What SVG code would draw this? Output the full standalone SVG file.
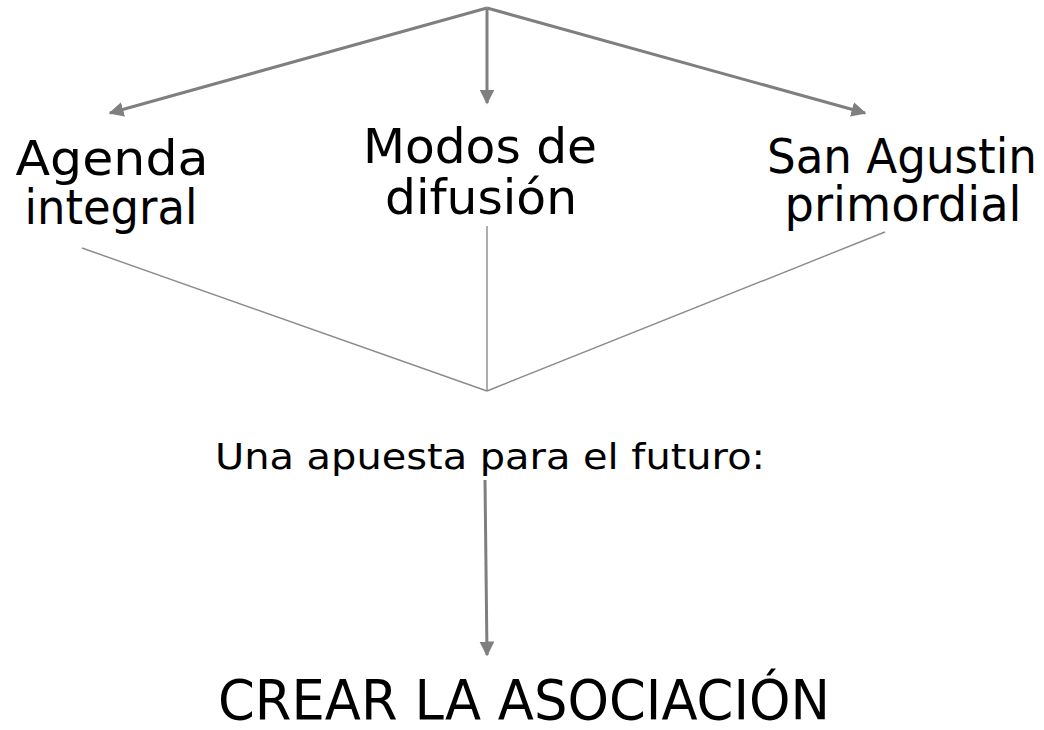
<svg xmlns="http://www.w3.org/2000/svg" width="1044" height="730" viewBox="0 0 1044 730">
<defs>
<marker id="ah" viewBox="0 0 10 10" refX="9" refY="5" markerWidth="5" markerHeight="5" orient="auto" markerUnits="strokeWidth">
<path d="M0,0 L10,5 L0,10 Z" fill="#7f7f7f"/>
</marker>
</defs>
<style>
text{font-family:"DejaVu Sans",sans-serif;fill:#000;text-anchor:middle}
.big{font-size:48px}
.mid{font-size:36px}
.thick{stroke:#7f7f7f;stroke-width:3;fill:none}
.thin{stroke:#8a8a8a;stroke-width:1.4;fill:none}
</style>
<rect width="1044" height="730" fill="#fff"/>
<g id="connectors">
<line class="thick" x1="487" y1="8" x2="110" y2="113" marker-end="url(#ah)"/>
<line class="thick" x1="487" y1="8" x2="487" y2="103" marker-end="url(#ah)"/>
<line class="thick" x1="487" y1="8" x2="865" y2="113" marker-end="url(#ah)"/>
<line class="thin" x1="82" y1="248" x2="487" y2="391"/>
<line class="thin" x1="487" y1="226" x2="487" y2="391"/>
<line class="thin" x1="885" y1="232" x2="487" y2="391"/>
<line class="thick" x1="485" y1="480" x2="487" y2="655" marker-end="url(#ah)"/>
</g>
<g id="agenda"><text class="big" x="112" y="175" textLength="193" lengthAdjust="spacingAndGlyphs">Agenda</text><text class="big" x="111" y="224" textLength="173" lengthAdjust="spacingAndGlyphs">integral</text></g>
<g id="modos"><text class="big" x="480" y="163" textLength="234" lengthAdjust="spacingAndGlyphs">Modos de</text><text class="big" x="481" y="214" textLength="192" lengthAdjust="spacingAndGlyphs">difusión</text></g>
<g id="sanagustin"><text class="big" x="902" y="173" textLength="270" lengthAdjust="spacingAndGlyphs">San Agustin</text><text class="big" x="903" y="221" textLength="237" lengthAdjust="spacingAndGlyphs">primordial</text></g>
<g id="apuesta"><text class="mid" x="490" y="469" textLength="550" lengthAdjust="spacingAndGlyphs">Una apuesta para el futuro:</text></g>
<g id="crear"><text style="font-size:55px" x="524" y="719" textLength="612" lengthAdjust="spacingAndGlyphs">CREAR LA ASOCIACIÓN</text></g>
</svg>
